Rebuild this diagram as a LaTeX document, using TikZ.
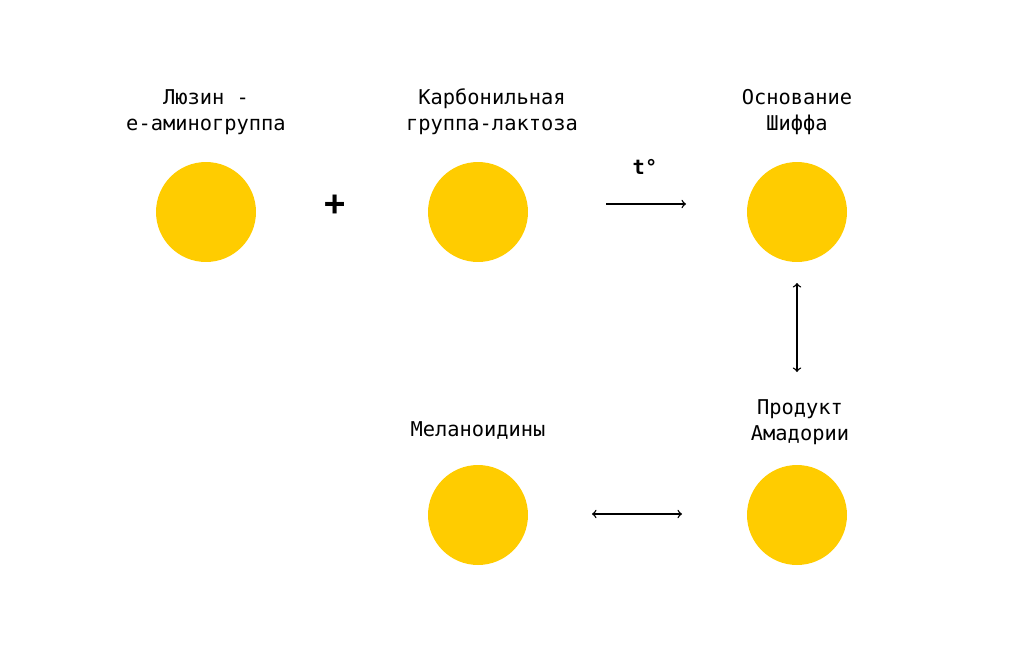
\documentclass[tikz,border=0pt]{standalone}
\usepackage{fontspec}
\setmainfont{DejaVu Sans Mono}
\definecolor{gold}{HTML}{FFCC00}
\begin{document}
\begin{tikzpicture}[x=0.02cm, y=-0.02cm,
    ball/.style = {circle, fill = gold, minimum size = 2cm, inner sep = 0pt},
    caption/.style = {align = center, font = \fontsize{11.6}{14.6}\selectfont}]
            \useasboundingbox (0, 0) rectangle (1024, 653);

            \node [ball] (lys) at (206, 212) {};
            \node [ball] (carb) at (478, 212) {};
            \node [ball] (schiff) at (797, 212) {};
            \node [ball] (mel) at (478, 515) {};
            \node [ball] (amad) at (797, 515) {};

            \node [caption] (lyslbl) at (206, 112) {Люзин -\\е-аминогруппа};
            \node [caption] (carblbl) at (492, 112) {Карбонильная\\группа-лактоза};
            \node [caption] (schifflbl) at (797, 112) {Основание\\Шиффа};
            \node [caption] (amadlbl) at (800, 422) {Продукт\\Амадории};
            \node [caption] (mellbl) at (478, 430) {Меланоидины};

            \node [font = \fontsize{20}{20}\selectfont] (plus) at (335, 205) {\textbf{+}};

            \coordinate (heatA) at (606, 204);
            \coordinate (heatB) at (686, 204);
            \draw [->, thick] (heatA) -- (heatB); % нагрев
            \node [caption, font = \fontsize{11.6}{14}\selectfont\bfseries] (heat) at (645, 167) {t°};

            \coordinate (vertA) at (797, 283);
            \coordinate (vertB) at (797, 372);
            \draw [<->, thick] (vertA) -- (vertB); % Шифф <-> Амадори

            \coordinate (horA) at (592, 514);
            \coordinate (horB) at (682, 514);
            \draw [<->, thick] (horA) -- (horB); % Меланоидины <-> Амадори
\end{tikzpicture}
\end{document}
